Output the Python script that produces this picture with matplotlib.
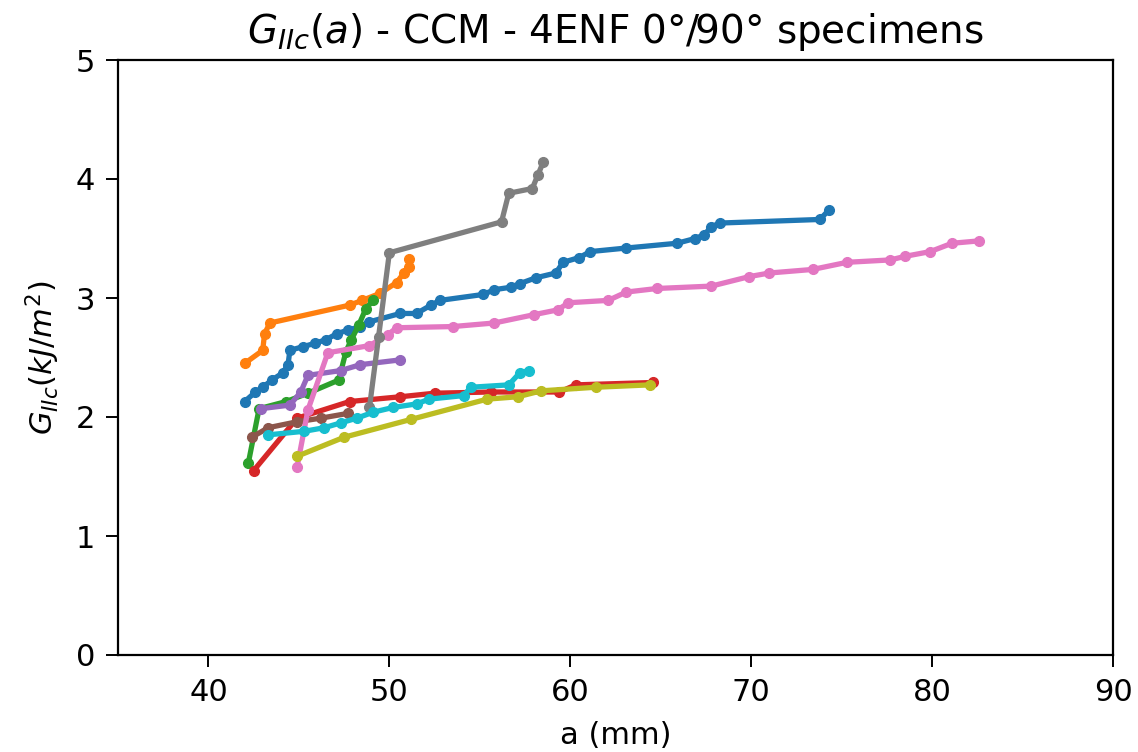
import matplotlib
matplotlib.use("Agg")
import matplotlib.pyplot as plt

# crack length a (mm) and G_IIc (kJ/m^2) per specimen
a_1 = [42.0, 42.6, 43.0, 43.5, 44.1, 44.4, 44.5, 45.2, 45.9, 46.5, 47.1, 47.7, 48.4, 48.9, 50.6,
       51.5, 52.3, 52.8, 55.2, 55.8, 56.7, 57.2, 58.1, 59.2, 59.6, 60.5, 61.1, 63.1, 65.9, 66.9,
       67.4, 67.8, 68.3, 73.8, 74.3]
g_1 = [2.13, 2.21, 2.25, 2.31, 2.37, 2.44, 2.56, 2.59, 2.62, 2.65, 2.70, 2.73, 2.76, 2.80, 2.87,
       2.87, 2.94, 2.98, 3.03, 3.07, 3.09, 3.12, 3.17, 3.21, 3.30, 3.34, 3.39, 3.42, 3.46, 3.50,
       3.53, 3.60, 3.63, 3.66, 3.74]

a_2 = [42.0, 43.0, 43.1, 43.4, 47.8, 48.5, 49.5, 50.4, 50.8, 51.1, 51.1]
g_2 = [2.45, 2.56, 2.70, 2.79, 2.94, 2.98, 3.04, 3.13, 3.21, 3.26, 3.33]

a_3 = [42.2, 42.8, 44.3, 45.5, 47.2, 47.6, 47.9, 48.3, 48.7, 49.1]
g_3 = [1.61, 2.07, 2.13, 2.20, 2.31, 2.55, 2.65, 2.77, 2.91, 2.98]

a_4 = [42.5, 44.9, 47.8, 50.6, 52.5, 55.6, 59.4, 60.3, 64.6]
g_4 = [1.55, 1.99, 2.13, 2.17, 2.20, 2.21, 2.21, 2.27, 2.29]

a_5 = [42.9, 44.5, 45.1, 45.5, 47.3, 48.4, 50.6]
g_5 = [2.07, 2.10, 2.21, 2.35, 2.39, 2.44, 2.48]

a_6 = [42.4, 43.3, 44.9, 46.2, 47.7]
g_6 = [1.83, 1.91, 1.96, 1.99, 2.03]

a_7 = [44.9, 45.5, 46.6, 48.9, 49.9, 50.4, 53.5, 55.8, 58.0, 59.3, 59.9, 62.1, 63.1, 64.8, 67.8,
       69.9, 71.0, 73.4, 75.3, 77.7, 78.5, 79.9, 81.1, 82.6]
g_7 = [1.58, 2.06, 2.54, 2.60, 2.69, 2.75, 2.76, 2.79, 2.86, 2.90, 2.96, 2.98, 3.05, 3.08, 3.10,
       3.18, 3.21, 3.24, 3.30, 3.32, 3.35, 3.39, 3.46, 3.48]

a_8 = [48.9, 49.4, 50.0, 56.2, 56.6, 57.9, 58.2, 58.5]
g_8 = [2.08, 2.67, 3.38, 3.64, 3.88, 3.92, 4.03, 4.14]

a_9 = [44.9, 47.5, 51.2, 55.4, 57.1, 58.4, 61.4, 64.4]
g_9 = [1.67, 1.83, 1.98, 2.15, 2.17, 2.22, 2.25, 2.27]

a_10 = [43.3, 45.3, 46.4, 47.3, 48.2, 49.1, 50.2, 51.5, 52.2, 54.1, 54.5, 56.6, 57.2, 57.7]
g_10 = [1.85, 1.88, 1.91, 1.95, 1.99, 2.04, 2.08, 2.11, 2.15, 2.18, 2.25, 2.27, 2.37, 2.39]

specimens = [(a_1, g_1), (a_2, g_2), (a_3, g_3), (a_4, g_4), (a_5, g_5),
             (a_6, g_6), (a_7, g_7), (a_8, g_8), (a_9, g_9), (a_10, g_10)]

fs = 22
fig = plt.figure(figsize=(11.38, 7.52), dpi=100)
ax = fig.add_axes([118 / 1138, 97 / 752, 995 / 1138, 595 / 752])

for a, g in specimens:
    ax.plot(a, g, marker="o", markersize=7, linewidth=3.8)

ax.set_xlim(35, 90)
ax.set_ylim(0, 5)
ax.tick_params(labelsize=fs, length=8.5, width=1.4, pad=8)
for s in ax.spines.values():
    s.set_linewidth(1.6)
ax.set_xlabel("a (mm)", fontsize=fs, labelpad=10)
ax.set_ylabel(r"$G_{IIc}(kJ/m^2)$", fontsize=fs, labelpad=10)
ax.set_title(r"$G_{IIc}(a)$ - CCM - 4ENF 0°/90° specimens", fontsize=28, pad=12)

fig.savefig("out.png", dpi=100)
